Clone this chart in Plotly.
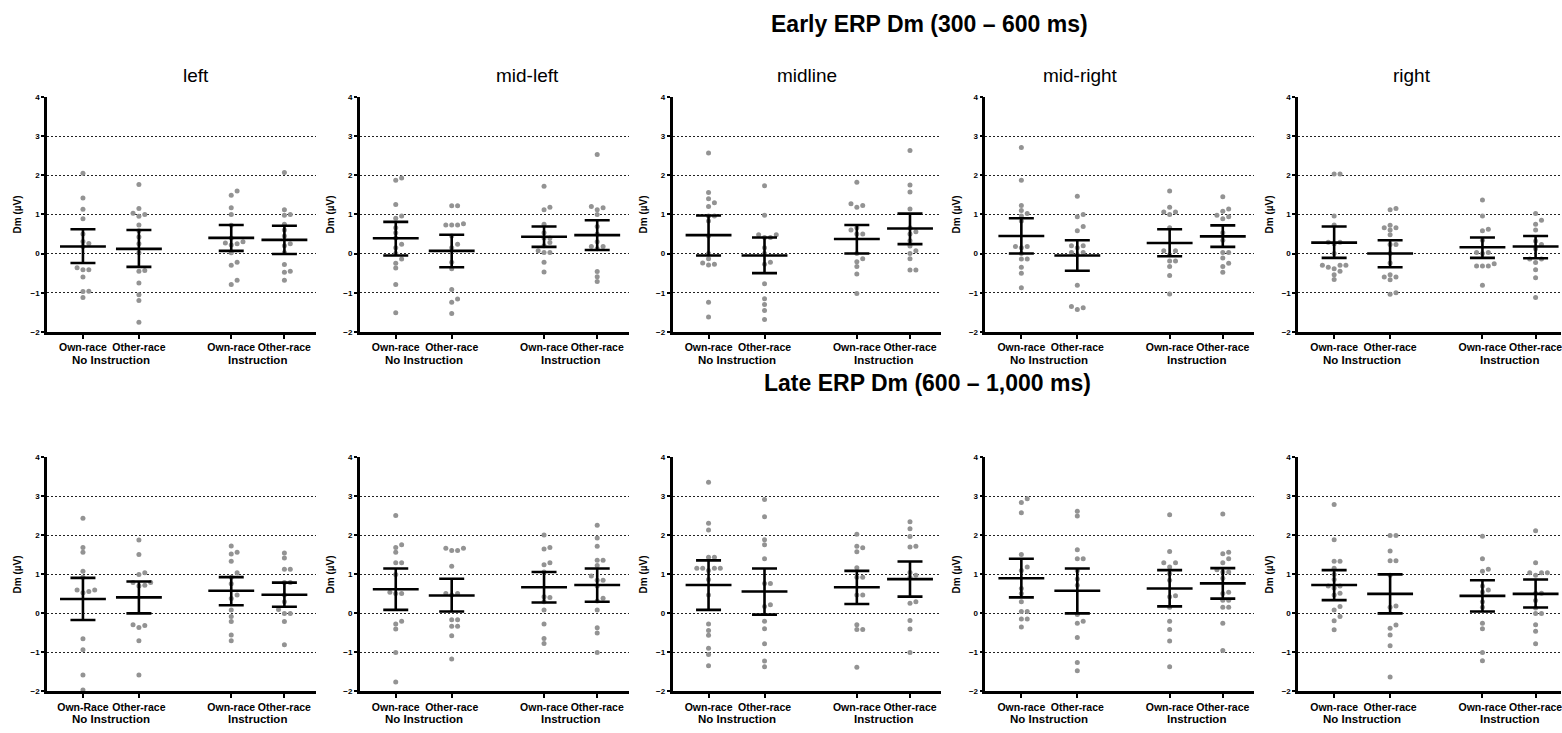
import plotly.graph_objects as go

# ---------------- data ----------------
regions = ["left", "mid-left", "midline", "mid-right", "right"]
cond_labels = ["Own-race", "Other-race", "Own-race", "Other-race"]
cond_labels_late_left = ["Own-Race", "Other-race", "Own-race", "Other-race"]
group_labels = ["No Instruction", "Instruction"]
row_titles = ["Early ERP Dm (300 \u2013 600 ms)", "Late ERP Dm (600 \u2013 1,000 ms)"]
y_ticks = [-2, -1, 0, 1, 2, 3, 4]

# Early ERP (300-600 ms): 4 groups per region
early_left = [
    [2.05, 1.42, 1.13, 0.89, 0.50, 0.31, 0.26, 0.18, -0.36, -0.41, -0.41, -0.60, -0.96, -0.97, -1.12],
    [1.76, 1.15, 1.03, 1.0, 0.95, 0.73, 0.58, 0.42, 0.25, 0.02, -0.43, -0.45, -0.75, -1.05, -1.2, -1.75],
    [1.6, 1.49, 1.17, 1.0, 0.72, 0.4, 0.3, 0.25, 0.27, 0.22, 0.02, -0.22, -0.3, -0.68, -0.79],
    [2.07, 1.12, 1.0, 0.98, 0.75, 0.6, 0.45, 0.25, 0.2, 0.03, -0.28, -0.45, -0.48, -0.68],
]
early_midleft = [
    [1.93, 1.87, 1.25, 0.96, 0.9, 0.66, 0.53, 0.4, 0.24, 0.15, 0.0, -0.14, -0.25, -0.37, -0.79, -1.51],
    [1.22, 1.22, 0.76, 0.73, 0.73, 0.73, 0.45, 0.24, 0.15, -0.22, -0.39, -0.92, -1.16, -1.24, -1.53],
    [1.72, 1.18, 1.12, 0.75, 0.53, 0.4, 0.4, 0.28, 0.2, 0.07, 0.03, 0.03, -0.22, -0.47],
    [2.53, 1.2, 1.17, 1.12, 1.0, 0.69, 0.5, 0.3, 0.18, 0.18, 0.12, -0.46, -0.59, -0.71],
]
early_midline = [
    [2.57, 1.56, 1.4, 1.3, 1.2, 0.96, 0.96, 0.83, 0.45, 0.0, -0.13, -0.24, -0.27, -0.29, -1.24, -1.62],
    [1.73, 0.98, 0.48, 0.48, 0.41, 0.41, 0.15, 0.0, -0.22, -0.27, -0.77, -1.15, -1.3, -1.45, -1.68],
    [1.82, 1.27, 1.23, 1.18, 0.66, 0.6, 0.5, 0.5, 0.0, -0.13, -0.21, -0.33, -0.52, -1.02],
    [2.63, 1.75, 1.57, 1.14, 0.66, 0.56, 0.5, 0.33, 0.19, 0.07, 0.0, -0.13, -0.42, -0.42],
]
early_midright = [
    [2.71, 1.87, 1.23, 1.1, 1.02, 0.96, 0.83, 0.18, 0.18, 0.15, 0.0, -0.14, -0.14, -0.35, -0.5, -0.87],
    [1.46, 1.0, 0.94, 0.69, 0.58, 0.2, 0.2, 0.15, 0.03, 0.03, -0.03, -0.81, -1.35, -1.38, -1.43],
    [1.6, 1.18, 1.06, 1.06, 1.0, 0.66, 0.07, 0.07, -0.03, -0.19, -0.19, -0.33, -0.56, -1.03],
    [1.45, 1.14, 1.08, 0.98, 0.94, 0.89, 0.53, 0.34, 0.03, 0.03, -0.11, -0.25, -0.33, -0.48],
]
early_right = [
    [2.03, 2.03, 0.96, 0.73, 0.29, 0.29, 0.25, 0.0, -0.3, -0.3, -0.3, -0.35, -0.39, -0.45, -0.54, -0.66],
    [1.15, 1.12, 0.72, 0.66, 0.66, 0.6, 0.48, 0.23, 0.23, 0.0, -0.24, -0.54, -0.6, -0.6, -0.67, -1.0, -1.04],
    [1.37, 0.96, 0.62, 0.58, 0.34, 0.03, 0.03, 0.0, -0.26, -0.32, -0.32, -0.32, -0.81],
    [1.02, 0.85, 0.75, 0.6, 0.32, 0.23, 0.12, -0.14, -0.14, -0.23, -0.41, -0.62, -1.12],
]
early_mean = [[0.18, 0.12, 0.40, 0.35], [0.39, 0.07, 0.43, 0.47], [0.47, -0.05, 0.37, 0.64],
              [0.45, -0.05, 0.27, 0.44], [0.28, 0.0, 0.16, 0.18]]
early_ci_hi = [[0.62, 0.60, 0.73, 0.71], [0.81, 0.48, 0.69, 0.85], [0.97, 0.41, 0.73, 1.02],
               [0.9, 0.34, 0.62, 0.72], [0.69, 0.34, 0.41, 0.45]]
early_ci_lo = [[-0.24, -0.34, 0.07, -0.01], [-0.05, -0.35, 0.17, 0.09], [-0.05, -0.5, 0.0, 0.24],
               [0.0, -0.44, -0.07, 0.17], [-0.11, -0.35, -0.11, -0.12]]

# Late ERP (600-1000 ms)
late_left = [
    [2.44, 1.69, 1.57, 1.08, 0.93, 0.6, 0.6, 0.56, 0.53, -0.65, -0.93, -1.58, -1.96],
    [1.88, 1.51, 1.04, 1.0, 0.79, 0.79, 0.7, 0.72, -0.29, -0.31, -0.36, -0.7, -1.58],
    [1.73, 1.57, 1.52, 1.34, 1.04, 0.93, 0.76, 0.47, 0.38, 0.09, -0.08, -0.21, -0.55, -0.7],
    [1.55, 1.42, 1.13, 1.13, 0.79, 0.79, 0.47, 0.3, 0.1, 0.0, 0.0, -0.21, -0.8],
]
late_midleft = [
    [2.51, 1.76, 1.69, 1.57, 1.3, 1.3, 1.0, 0.54, 0.51, 0.51, -0.2, -0.27, -0.4, -1.0, -1.76],
    [1.67, 1.67, 1.61, 1.61, 1.21, 0.51, 0.51, 0.47, -0.16, -0.16, -0.33, -0.33, -0.57, -1.17],
    [2.01, 1.69, 1.65, 1.3, 1.25, 1.06, 0.43, 0.41, 0.3, 0.09, -0.27, -0.64, -0.77],
    [2.26, 1.93, 1.72, 1.36, 1.36, 1.23, 0.96, 0.85, 0.85, 0.7, 0.39, 0.32, 0.09, -0.37, -0.5, -1.0],
]
late_midline = [
    [3.36, 2.31, 2.14, 1.44, 1.44, 1.16, 1.16, 1.16, 1.16, 1.1, 0.87, 0.47, -0.27, -0.44, -0.56, -0.89, -1.05, -1.34],
    [2.92, 2.48, 1.89, 1.76, 1.4, 0.77, 0.77, 0.22, 0.18, -0.2, -0.39, -0.78, -1.22, -1.37],
    [2.03, 1.72, 1.68, 1.58, 1.17, 0.93, 0.93, 0.47, 0.47, -0.29, -0.41, -0.41, -1.38],
    [2.35, 2.17, 1.97, 1.72, 1.7, 1.05, 0.98, 0.92, 0.3, 0.26, -0.18, -0.4, -1.0],
]
late_midright = [
    [2.94, 2.84, 2.58, 1.51, 1.19, 1.1, 0.64, 0.51, 0.3, 0.05, 0.05, -0.14, -0.14, -0.35],
    [2.62, 2.5, 1.63, 1.4, 1.4, 1.1, 0.88, 0.72, -0.03, -0.2, -0.25, -0.62, -1.26, -1.47],
    [2.53, 1.59, 1.3, 1.3, 1.19, 1.02, 0.85, 0.45, 0.43, 0.16, -0.2, -0.41, -0.71, -1.37],
    [2.55, 1.57, 1.53, 1.4, 1.3, 1.12, 1.06, 1.06, 0.9, 0.54, 0.51, 0.34, 0.34, 0.16, 0.16, -0.25, -0.95],
]
late_right = [
    [2.79, 1.89, 1.34, 1.34, 1.16, 1.0, 0.87, 0.7, 0.7, 0.65, 0.52, 0.47, 0.18, 0.09, -0.08, -0.19, -0.42],
    [2.0, 2.0, 1.6, 1.35, 1.35, 0.98, 0.19, 0.16, -0.3, -0.38, -0.55, -0.83, -1.63],
    [1.98, 1.4, 1.13, 1.08, 0.7, 0.6, 0.55, 0.3, 0.16, -0.25, -0.39, -1.0, -1.21],
    [2.12, 1.3, 1.04, 1.04, 1.04, 0.98, 0.52, 0.52, 0.33, 0.14, 0.0, 0.0, -0.29, -0.46, -0.78],
]
late_mean = [[0.37, 0.41, 0.58, 0.48], [0.62, 0.46, 0.67, 0.73], [0.73, 0.56, 0.67, 0.88],
             [0.9, 0.58, 0.64, 0.77], [0.73, 0.5, 0.45, 0.5]]
late_ci_hi = [[0.91, 0.82, 0.93, 0.79], [1.15, 0.89, 1.06, 1.15], [1.36, 1.15, 1.09, 1.33],
              [1.4, 1.15, 1.11, 1.16], [1.11, 1.0, 0.85, 0.87]]
late_ci_lo = [[-0.17, 0.0, 0.21, 0.17], [0.09, 0.05, 0.28, 0.3], [0.09, -0.03, 0.24, 0.43],
              [0.41, 0.0, 0.18, 0.38], [0.34, 0.0, 0.05, 0.15]]

early_points = [early_left, early_midleft, early_midline, early_midright, early_right]
late_points = [late_left, late_midleft, late_midline, late_midright, late_right]

# ---------------- layout constants ----------------
W, H = 1562, 733
FONT = "Liberation Sans, Arial, sans-serif"
cat_x = [1.0, 2.0, 3.65, 4.6]
group_x = [1.5, 4.125]
x_lo = 0.357
x_per_px = 4.804 / 269.0
panel_x0 = [47, 360, 673, 986, 1299]
panel_w = 269
row_y = [(94, 332), (459, 696)]  # px from top (y=4 .. y=-2)


def swarm(vals, center, dx=0.105, dy=0.115):
    placed = []
    xs = [center] * len(vals)
    order = sorted(range(len(vals)), key=lambda i: vals[i])
    for i in order:
        v = vals[i]
        k = 0
        chosen = None
        while chosen is None:
            cands = [0.0] if k == 0 else [k * dx * 0.5, -k * dx * 0.5]
            for off in cands:
                if all(not (abs(v - pv) < dy and abs(off - po) < dx * 0.95) for pv, po in placed):
                    chosen = off
                    break
            k += 1
        placed.append((v, chosen))
        xs[i] = center + chosen
    return xs


fig = go.Figure()
layout = {}
annotations = []

idx = 0
for r, (pts_all, means, his, los) in enumerate([
        (early_points, early_mean, early_ci_hi, early_ci_lo),
        (late_points, late_mean, late_ci_hi, late_ci_lo)]):
    for c in range(5):
        idx += 1
        xa = "x" if idx == 1 else f"x{idx}"
        ya = "y" if idx == 1 else f"y{idx}"
        x0 = panel_x0[c]
        x1 = min(x0 + panel_w, W)
        wpx = x1 - x0
        yt, yb = row_y[r]
        # scatter points
        for g in range(4):
            vals = pts_all[c][g]
            fig.add_trace(go.Scatter(
                x=swarm(vals, cat_x[g]), y=vals, mode="markers", xaxis=xa, yaxis=ya,
                marker=dict(size=5, color="#939393"), showlegend=False, hoverinfo="y"))
        # mean lines
        mx, my = [], []
        for g in range(4):
            mx += [cat_x[g] - 0.41, cat_x[g] + 0.41, None]
            my += [means[c][g], means[c][g], None]
        fig.add_trace(go.Scatter(x=mx, y=my, mode="lines", xaxis=xa, yaxis=ya,
                                 line=dict(color="black", width=2.6), showlegend=False,
                                 hoverinfo="skip"))
        # CI error bars
        fig.add_trace(go.Scatter(
            x=cat_x, y=means[c], mode="markers", xaxis=xa, yaxis=ya,
            marker=dict(size=1, color="rgba(0,0,0,0)"), showlegend=False,
            error_y=dict(type="data", symmetric=False,
                         array=[h - m for h, m in zip(his[c], means[c])],
                         arrayminus=[m - l for m, l in zip(means[c], los[c])],
                         width=12.5, thickness=2.6, color="black")))
        labels = cond_labels_late_left if (r == 1 and c == 0) else cond_labels
        key_x = "xaxis" if idx == 1 else f"xaxis{idx}"
        key_y = "yaxis" if idx == 1 else f"yaxis{idx}"
        layout[key_x] = dict(
            domain=[x0 / W, x1 / W], anchor=ya, range=[x_lo, x_lo + wpx * x_per_px],
            tickvals=cat_x, ticktext=labels, ticks="outside", ticklen=4, tickwidth=2,
            tickcolor="black", showline=True, linewidth=2.5, linecolor="black",
            showgrid=False, zeroline=False, fixedrange=True, ticklabeloverflow="allow",
            tickfont=dict(family=FONT, size=10.5, color="black", weight="bold"))
        layout[key_y] = dict(
            domain=[1 - yb / H, 1 - yt / H], anchor=xa, range=[-2, 4],
            tickvals=y_ticks, ticks="outside", ticklen=3, tickwidth=1.5, tickcolor="black",
            showline=True, linewidth=2.5, linecolor="black", zeroline=False,
            showgrid=True, gridcolor="#222222", gridwidth=1, griddash="2px,2px",
            tickfont=dict(family=FONT, size=8, color="black", weight="bold"),
            title=dict(text="Dm (\u00b5V)", standoff=7,
                       font=dict(family=FONT, size=10, color="black", weight="bold")),
            fixedrange=True)
        # group labels
        for gi, gx in enumerate(group_x):
            annotations.append(dict(
                x=gx, y=1 - (yb + 28) / H, xref=xa, yref="paper", text=group_labels[gi],
                showarrow=False, yanchor="middle",
                font=dict(family=FONT, size=11.5, color="black", weight="bold")))
        if r == 0:
            annotations.append(dict(
                x=(x0 + panel_w / 2) / W, y=1 - 72 / H, xref="paper", yref="paper",
                text=regions[c], showarrow=False, yanchor="middle",
                font=dict(family=FONT, size=19, color="black")))

annotations.append(dict(x=930 / W, y=1 - 20 / H, xref="paper", yref="paper", text=row_titles[0],
                        showarrow=False, yanchor="middle",
                        font=dict(family=FONT, size=23, color="black", weight="bold")))
annotations.append(dict(x=928 / W, y=1 - 384 / H, xref="paper", yref="paper", text=row_titles[1],
                        showarrow=False, yanchor="middle",
                        font=dict(family=FONT, size=23, color="black", weight="bold")))

fig.update_layout(width=W, height=H, margin=dict(l=0, r=0, t=0, b=0),
                  paper_bgcolor="white", plot_bgcolor="white",
                  annotations=annotations, **layout)
fig.write_html("out.html", config={"displayModeBar": False},
               post_script="document.body.style.margin='0';")
